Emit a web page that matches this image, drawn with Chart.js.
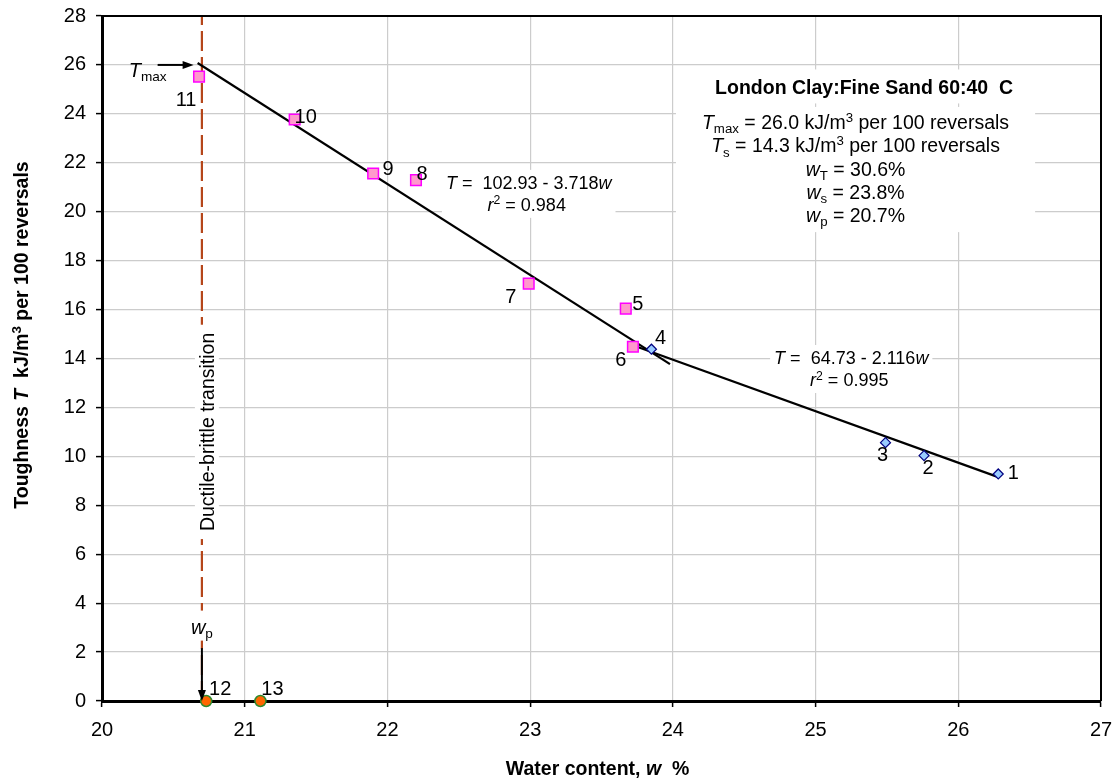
<!DOCTYPE html>
<html><head><meta charset="utf-8"><title>Toughness vs water content</title>
<script src="https://cdn.jsdelivr.net/npm/chart.js@4.4.1/dist/chart.umd.min.js"></script>
<style>html,body{margin:0;padding:0;background:#fff;overflow:hidden}canvas{display:block}</style>
</head><body>
<canvas id="chart" width="1115" height="782"></canvas>
<script>
// ---------- data ----------
const xTickLabels = ['20','21','22','23','24','25','26','27'];
const yTickLabels = ['0','2','4','6','8','10','12','14','16','18','20','22','24','26','28'];

const blueLabels = ['1','2','3','4'];
const blueW = [26.28, 25.76, 25.49, 23.85];
const blueT = [9.28, 10.03, 10.56, 14.38];

const pinkLabels = ['5','6','7','8','9','10','11'];
const pinkW = [23.67, 23.72, 22.99, 22.20, 21.90, 21.35, 20.68];
const pinkT = [16.04, 14.48, 17.06, 21.29, 21.56, 23.77, 25.52];

const orangeLabels = ['12','13'];
const orangeW = [20.73, 21.11];
const orangeT = [0, 0];

const fit1W = [20.67, 23.98];
const fit1T = [26.08, 13.77];
const fit2W = [23.71, 26.28];
const fit2T = [14.56, 9.15];

const transitionW = [20.7, 20.7];
const transitionT = [0, 28];

const tMaxValue = 26.0;
const wPValue = 20.7;
const chartTitle = 'London Clay:Fine Sand 60:40  C';
const fit1Eq = ['102.93 - 3.718', '0.984'];
const fit2Eq = ['64.73 - 2.116', '0.995'];
const statsLines = [
  [{t:'T',it:1},{t:'max',sub:1},{t:' = 26.0 kJ/m'},{t:'3',sup:1},{t:' per 100 reversals'}],
  [{t:'T',it:1},{t:'s',sub:1},{t:' = 14.3 kJ/m'},{t:'3',sup:1},{t:' per 100 reversals'}],
  [{t:'w',it:1},{t:'T',sub:1},{t:' = 30.6%'}],
  [{t:'w',it:1},{t:'s',sub:1},{t:' = 23.8%'}],
  [{t:'w',it:1},{t:'p',sub:1},{t:' = 20.7%'}]
];
const transitionText = 'Ductile-brittle transition';

// ---------- styles (label offsets in px) ----------
const blueOff = [[15,-2],[4,11],[-3,11],[9,-12]];
const pinkOff = [[12,-6],[-12,12],[-18,12],[6,-7],[15,-6],[11,-4],[-13,22]];
const orangeOff = [[14,-13],[12,-13]];

const FONT = '"Liberation Sans", Arial, Helvetica, sans-serif';

function toXY(ws, ts){ return ws.map((w,i)=>({x:w, y:ts[i]})); }

function richParts(ctx, runs, size, bold){
  return runs.map(r=>{
    const s = (r.sub||r.sup) ? size*0.68 : size;
    const f = (r.it?'italic ':'') + (bold?'bold ':'') + s + 'px ' + FONT;
    ctx.font = f;
    return {r, f, w: ctx.measureText(r.t).width};
  });
}
function richWidth(ctx, runs, size, bold){
  return richParts(ctx, runs, size, bold).reduce((a,p)=>a+p.w,0);
}
function drawRich(ctx, runs, cx, cy, size, bold, align){
  const parts = richParts(ctx, runs, size, bold);
  const total = parts.reduce((a,p)=>a+p.w,0);
  let x = align==='left' ? cx : cx - total/2;
  const base = cy + 0.358*size;
  ctx.textAlign = 'left';
  ctx.textBaseline = 'alphabetic';
  parts.forEach(p=>{
    ctx.font = p.f;
    let y = base;
    if (p.r.sub) y += 0.22*size;
    if (p.r.sup) y -= 0.38*size;
    ctx.fillText(p.r.t, x, y);
    x += p.w;
  });
  return total;
}
function arrow(ctx, x1, y1, x2, y2){
  const a = Math.atan2(y2-y1, x2-x1), L = 11, H = 4;
  ctx.save();
  ctx.strokeStyle = '#000'; ctx.fillStyle = '#000'; ctx.lineWidth = 2;
  ctx.beginPath(); ctx.moveTo(x1,y1);
  ctx.lineTo(x2 - L*0.8*Math.cos(a), y2 - L*0.8*Math.sin(a)); ctx.stroke();
  ctx.beginPath();
  ctx.moveTo(x2,y2);
  ctx.lineTo(x2 - L*Math.cos(a) + H*Math.sin(a), y2 - L*Math.sin(a) - H*Math.cos(a));
  ctx.lineTo(x2 - L*Math.cos(a) - H*Math.sin(a), y2 - L*Math.sin(a) + H*Math.cos(a));
  ctx.closePath(); ctx.fill();
  ctx.restore();
}

const annotations = {
  id: 'annotations',
  beforeDatasetsDraw(chart){
    const ctx = chart.ctx, xs = chart.scales.x, ys = chart.scales.y;
    ctx.save();
    ctx.fillStyle = '#000';
    // title box
    const tCx = xs.getPixelForValue(25.34), tCy = ys.getPixelForValue(25.08);
    ctx.font = 'bold 19.5px ' + FONT;
    const tw = ctx.measureText(chartTitle).width;
    ctx.fillStyle = '#fff';
    ctx.fillRect(tCx - tw/2 - 6, tCy - 18, tw + 12, 34);
    ctx.fillStyle = '#000';
    drawRich(ctx, [{t:chartTitle}], tCx, tCy, 19.5, true);
    // stats box
    const sCx = xs.getPixelForValue(25.28);
    const sY0 = ys.getPixelForValue(23.67), step = 23.3;
    let maxW = 0;
    statsLines.forEach(l=>{ maxW = Math.max(maxW, richWidth(ctx, l, 19.5, false)); });
    ctx.fillStyle = '#fff';
    ctx.fillRect(sCx - maxW/2 - 26, sY0 - 15, maxW + 52, step*4 + 32);
    ctx.fillStyle = '#000';
    statsLines.forEach((l,i)=> drawRich(ctx, l, sCx, sY0 + i*step, 19.5, false));
    // fit equations
    const eqs = [
      {eq: fit1Eq, cx: xs.getPixelForValue(22.99), cy: ys.getPixelForValue(21.18)},
      {eq: fit2Eq, cx: xs.getPixelForValue(25.25), cy: ys.getPixelForValue(14.02)}
    ];
    eqs.forEach(e=>{
      const l1 = [{t:'T',it:1},{t:' =  ' + e.eq[0]},{t:'w',it:1}];
      const l2 = [{t:'r',it:1},{t:'2',sup:1},{t:' = ' + e.eq[1]}];
      const w1 = richWidth(ctx, l1, 18, false), w2 = richWidth(ctx, l2, 18, false);
      const bw = Math.max(w1,w2);
      ctx.fillStyle = '#fff';
      ctx.fillRect(e.cx - bw/2 - 4, e.cy - 13, bw + 8, 48);
      ctx.fillStyle = '#000';
      drawRich(ctx, l1, e.cx, e.cy, 18, false);
      drawRich(ctx, l2, e.cx - 2, e.cy + 22, 18, false);
    });
    ctx.restore();
  },
  afterDatasetsDraw(chart){
    const ctx = chart.ctx, xs = chart.scales.x, ys = chart.scales.y, ca = chart.chartArea;
    ctx.save();
    // top and right frame
    ctx.strokeStyle = '#000'; ctx.lineWidth = 2;
    ctx.beginPath();
    ctx.moveTo(ca.left, ca.top); ctx.lineTo(ca.right, ca.top); ctx.lineTo(ca.right, ca.bottom);
    ctx.stroke();
    // point labels
    ctx.fillStyle = '#000';
    const lab = (ws, ts, labels, off) => ws.forEach((w,i)=>{
      drawRich(ctx, [{t:labels[i]}], xs.getPixelForValue(w) + off[i][0], ys.getPixelForValue(ts[i]) + off[i][1], 20, false);
    });
    lab(blueW, blueT, blueLabels, blueOff);
    lab(pinkW, pinkT, pinkLabels, pinkOff);
    lab(orangeW, orangeT, orangeLabels, orangeOff);
    // ductile-brittle transition label (rotated, white behind)
    const dx = xs.getPixelForValue(wPValue) + 5, dy = ys.getPixelForValue(11.0);
    ctx.save();
    ctx.translate(dx, dy); ctx.rotate(-Math.PI/2);
    const dw = richWidth(ctx, [{t:transitionText}], 19.5, false);
    ctx.fillStyle = '#fff';
    ctx.fillRect(-dw/2 - 8, -12, dw + 16, 24);
    ctx.fillStyle = '#000';
    drawRich(ctx, [{t:transitionText}], 0, 0, 19.5, false);
    ctx.restore();
    // w_p label and arrow
    const px = xs.getPixelForValue(wPValue);
    const py = ys.getPixelForValue(3.0);
    ctx.fillStyle = '#fff';
    ctx.fillRect(px - 14, py - 17, 28, 30);
    ctx.fillStyle = '#000';
    drawRich(ctx, [{t:'w',it:1},{t:'p',sub:1}], px, py - 1, 20, false);
    arrow(ctx, px, ys.getPixelForValue(2.16), px, ys.getPixelForValue(0));
    // T_max label and arrow
    const mx = xs.getPixelForValue(fit1W[0]), my = ys.getPixelForValue(tMaxValue);
    arrow(ctx, mx - 40, my, mx - 4, my);
    drawRich(ctx, [{t:'T',it:1},{t:'max',sub:1}], mx - 50, my + 5, 20, false);
    // axis titles
    const xtx = (ca.left + ca.right)/2 - 4;
    drawRich(ctx, [{t:'Water content, '},{t:'w',it:1},{t:'  %'}], xtx, 768, 19.5, true);
    ctx.save();
    ctx.translate(21, 335); ctx.rotate(-Math.PI/2);
    drawRich(ctx, [{t:'Toughness '},{t:'T',it:1},{t:'  kJ/m'},{t:'3',sup:1},{t:' per 100 reversals'}], 0, 0, 19.5, true);
    ctx.restore();
    ctx.restore();
  }
};

new Chart(document.getElementById('chart').getContext('2d'), {
  type: 'scatter',
  data: {
    datasets: [
      {label:'Orange', data: toXY(orangeW, orangeT), pointStyle:'circle', pointRadius:5.5,
       backgroundColor:'#FF6600', borderColor:'#2E8B2E', borderWidth:1.5, order:0, clip:false},
      {label:'Blue', data: toXY(blueW, blueT), pointStyle:'rectRot', pointRadius:5,
       backgroundColor:'#99CCFF', borderColor:'#000080', borderWidth:1.2, order:0, clip:false},
      {label:'Pink', data: toXY(pinkW, pinkT), pointStyle:'rect', pointRadius:7.5,
       backgroundColor:'#FF99CC', borderColor:'#FF00FF', borderWidth:1.5, order:1, clip:false},
      {label:'Fit 1', data: toXY(fit1W, fit1T), showLine:true, pointRadius:0,
       borderColor:'#000', borderWidth:2.2, order:2},
      {label:'Fit 2', data: toXY(fit2W, fit2T), showLine:true, pointRadius:0,
       borderColor:'#000', borderWidth:2.2, order:2},
      {label:'Transition', data: toXY(transitionW, transitionT), showLine:true, pointRadius:0,
       borderColor:'#B5461A', borderWidth:2.2, borderDash:[20,6], order:3}
    ]
  },
  options: {
    responsive:false, animation:false, events:[],
    layout:{padding:{left:0, right:14, top:16, bottom:0}},
    plugins:{legend:{display:false}, tooltip:{enabled:false}},
    scales:{
      x:{type:'linear', min:20, max:27,
         ticks:{stepSize:1, color:'#000', font:{family:FONT, size:20}, padding:11, maxRotation:0, autoSkip:false,
                callback:(v,i)=> xTickLabels[i] ?? String(v)},
         grid:{color:'#cccccc', lineWidth:1.2, tickColor:'#000', tickLength:6, tickWidth:1.5},
         border:{color:'#000', width:3},
         afterFit(s){ s.height = 81; s.paddingLeft = 0; s.paddingRight = 0; }},
      y:{type:'linear', min:0, max:28,
         ticks:{stepSize:2, color:'#000', font:{family:FONT, size:20}, padding:10, autoSkip:false,
                callback:(v,i)=> yTickLabels[i] ?? String(v)},
         grid:{color:'#cccccc', lineWidth:1.2, tickColor:'#000', tickLength:6, tickWidth:1.5},
         border:{color:'#000', width:3},
         afterFit(s){ s.width = 102; s.paddingTop = 0; s.paddingBottom = 0; }}
    }
  },
  plugins:[annotations]
});
</script>
</body></html>
